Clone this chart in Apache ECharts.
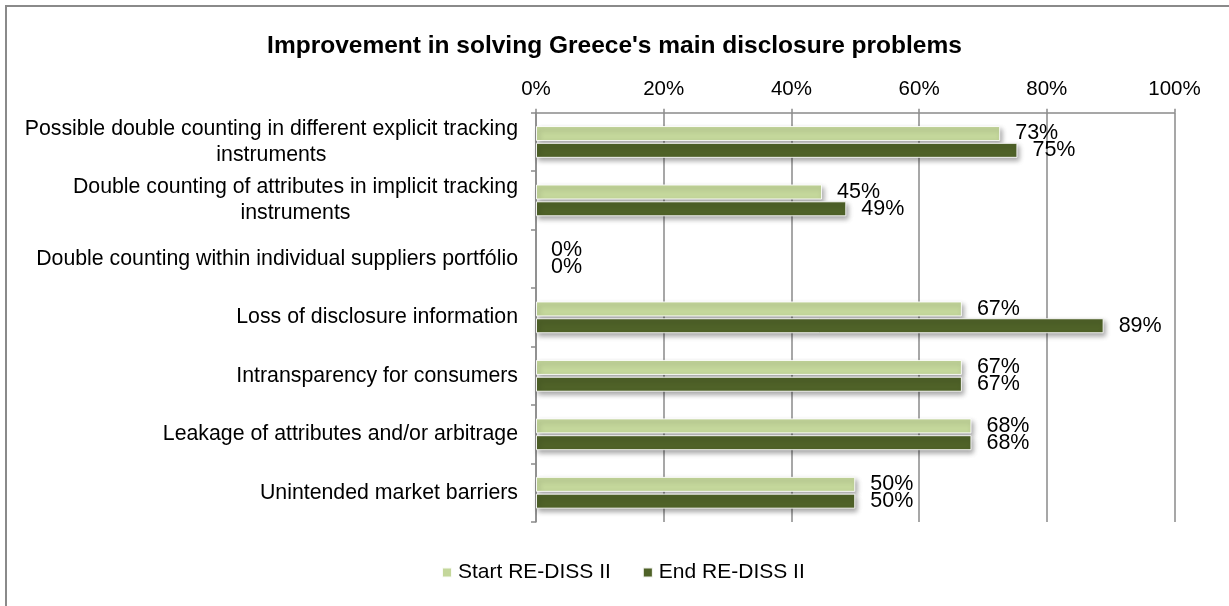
<!DOCTYPE html>
<html>
<head>
<meta charset="utf-8">
<script src="https://cdn.jsdelivr.net/npm/echarts@6/dist/echarts.min.js"></script>
<style>
html,body{margin:0;padding:0;background:#fff;}
#chart{width:1229px;height:606px;}
</style>
</head>
<body>
<div id="chart"></div>
<script>
var titleText = "Improvement in solving Greece's main disclosure problems";
var categories = [
  "Possible double counting in different explicit tracking\ninstruments",
  "Double counting of attributes in implicit tracking\ninstruments",
  "Double counting within individual suppliers portfólio",
  "Loss of disclosure information",
  "Intransparency for consumers",
  "Leakage of attributes and/or arbitrage",
  "Unintended market barriers"
];
var seriesNames = ["Start RE-DISS II", "End RE-DISS II"];
var startValues = [72.7, 44.8, 0, 66.7, 66.7, 68.2, 50];
var endValues = [75.4, 48.6, 0, 88.9, 66.7, 68.2, 50];
var xTicks = { min: 0, max: 100, interval: 20 };

var FONT = "'Liberation Sans', Arial, sans-serif";
var chart = echarts.init(document.getElementById('chart'), null, { renderer: 'canvas' });

function barSeries(name, values, color) {
  return {
    name: name,
    type: 'bar',
    data: values.map(function (v) {
      return v === 0
        ? { value: v, itemStyle: { color: 'rgba(0,0,0,0)', borderWidth: 0, borderColor: 'rgba(0,0,0,0)', shadowBlur: 0, shadowColor: 'rgba(0,0,0,0)', shadowOffsetX: 0, shadowOffsetY: 0 } }
        : v;
    }),
    barWidth: 15,
    barGap: '12%',
    itemStyle: {
      color: color,
      borderColor: 'rgba(255,255,255,0.9)',
      borderWidth: 1,
      shadowBlur: 5,
      shadowColor: 'rgba(0,0,0,0.35)',
      shadowOffsetX: 2,
      shadowOffsetY: 3
    },
    label: {
      show: true,
      position: 'right',
      distance: 15,
      fontFamily: FONT,
      fontSize: 21.5,
      color: '#000',
      formatter: function (p) { return Math.round(p.value) + '%'; }
    },
    emphasis: { disabled: true }
  };
}

var option = {
  animation: false,
  backgroundColor: '#ffffff',
  title: {
    text: titleText,
    left: 'center',
    top: 29,
    textStyle: { fontFamily: FONT, fontSize: 24.5, fontWeight: 'bold', color: '#000' }
  },
  legend: {
    left: 441,
    top: 562,
    padding: 0,
    itemWidth: 10,
    itemHeight: 10,
    itemGap: 31,
    icon: 'rect',
    textStyle: { fontFamily: FONT, fontSize: 21, color: '#000', padding: [0, 0, 0, 1] },
    data: seriesNames
  },
  grid: {
    left: 536,
    right: 54.5,
    top: 112.7,
    bottom: 84,
    containLabel: false
  },
  xAxis: {
    type: 'value',
    position: 'top',
    min: xTicks.min,
    max: xTicks.max,
    interval: xTicks.interval,
    axisLine: { show: true, lineStyle: { color: '#8a8a8a', width: 1.5 } },
    axisTick: { show: true, length: 4, lineStyle: { color: '#8a8a8a', width: 1.5 } },
    splitLine: { show: true, lineStyle: { color: '#8a8a8a', width: 1.5 } },
    axisLabel: {
      formatter: '{value}%',
      fontFamily: FONT,
      fontSize: 20.5,
      color: '#000',
      margin: 13
    }
  },
  yAxis: {
    type: 'category',
    inverse: true,
    data: categories,
    axisLine: { show: true, lineStyle: { color: '#8a8a8a', width: 1.5 } },
    axisTick: { show: true, length: 5, lineStyle: { color: '#8a8a8a', width: 1.5 } },
    splitLine: { show: false },
    axisLabel: {
      margin: 18,
      align: 'right',
      formatter: function (v) {
        return v.split('\n').map(function (l) { return '{a|' + l + '}'; }).join('\n');
      },
      rich: {
        a: { fontFamily: FONT, fontSize: 21.3, color: '#000', align: 'center', lineHeight: 26 }
      }
    }
  },
  graphic: [
    { type: 'line', shape: { x1: 6, y1: 5, x2: 6, y2: 606 }, style: { stroke: '#8a8a8a', lineWidth: 2 } },
    { type: 'line', shape: { x1: 5, y1: 6, x2: 1229, y2: 6 }, style: { stroke: '#8a8a8a', lineWidth: 2 } }
  ],
  series: [
    barSeries(seriesNames[0], startValues, '#C4D79B'),
    barSeries(seriesNames[1], endValues, '#4F6228')
  ]
};
chart.setOption(option);
</script>
</body>
</html>
